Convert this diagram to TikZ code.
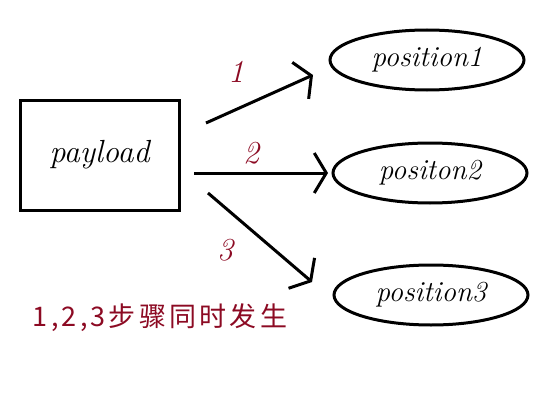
\documentclass[tikz,border=0pt]{standalone}
\usepackage{fontspec}
\newfontfamily\cjkfont[LetterSpace=12]{Noto Sans CJK SC}
\usetikzlibrary{shapes.geometric, arrows.meta}
\definecolor{steptext}{RGB}{140,10,35}

\tikzset{
    posnode/.style={draw, ellipse, line width=3pt, minimum width=194pt, minimum height=60pt, inner sep=0pt, font=\fontsize{29}{32}\selectfont\itshape},
    stepline/.style={line width=3pt, -{Straight Barb[length=12pt, width=40pt, line width=3pt]}},
    steplabel/.style={text=steptext, font=\fontsize{32}{34}\selectfont\itshape}
}

\begin{document}
\begin{tikzpicture}[x=1pt, y=-1pt]
    \useasboundingbox (0,0) rectangle (549,420);

    \coordinate (s1) at (206,123);
    \coordinate (t1) at (313,75);
    \coordinate (s2) at (194,173);
    \coordinate (t2) at (328,173);
    \coordinate (s3) at (208,193);
    \coordinate (t3) at (312,282);

    \node [draw, line width=3pt, minimum width=159pt, minimum height=110pt, inner sep=0pt, font=\fontsize{32}{34}\selectfont\itshape] (payload) at (99.5,155) {payload};

    \node [posnode] (pos1) at (427,60) {position1};
    \node [posnode] (pos2) at (430,173) {positon2};
    \node [posnode] (pos3) at (431,295) {position3};

    \draw [stepline] (s1) -- (t1);
    \draw [stepline] (s2) -- (t2);
    \draw [stepline] (s3) -- (t3);

    \node [steplabel] (n1) at (236,72) {1};
    \node [steplabel] (n2) at (251,153) {2};
    \node [steplabel] (n3) at (225,250) {3};

    \node [text=steptext, font=\fontsize{27}{30}\selectfont\cjkfont] (note) at (160,318) {1,2,3步骤同时发生};
\end{tikzpicture}
\end{document}
